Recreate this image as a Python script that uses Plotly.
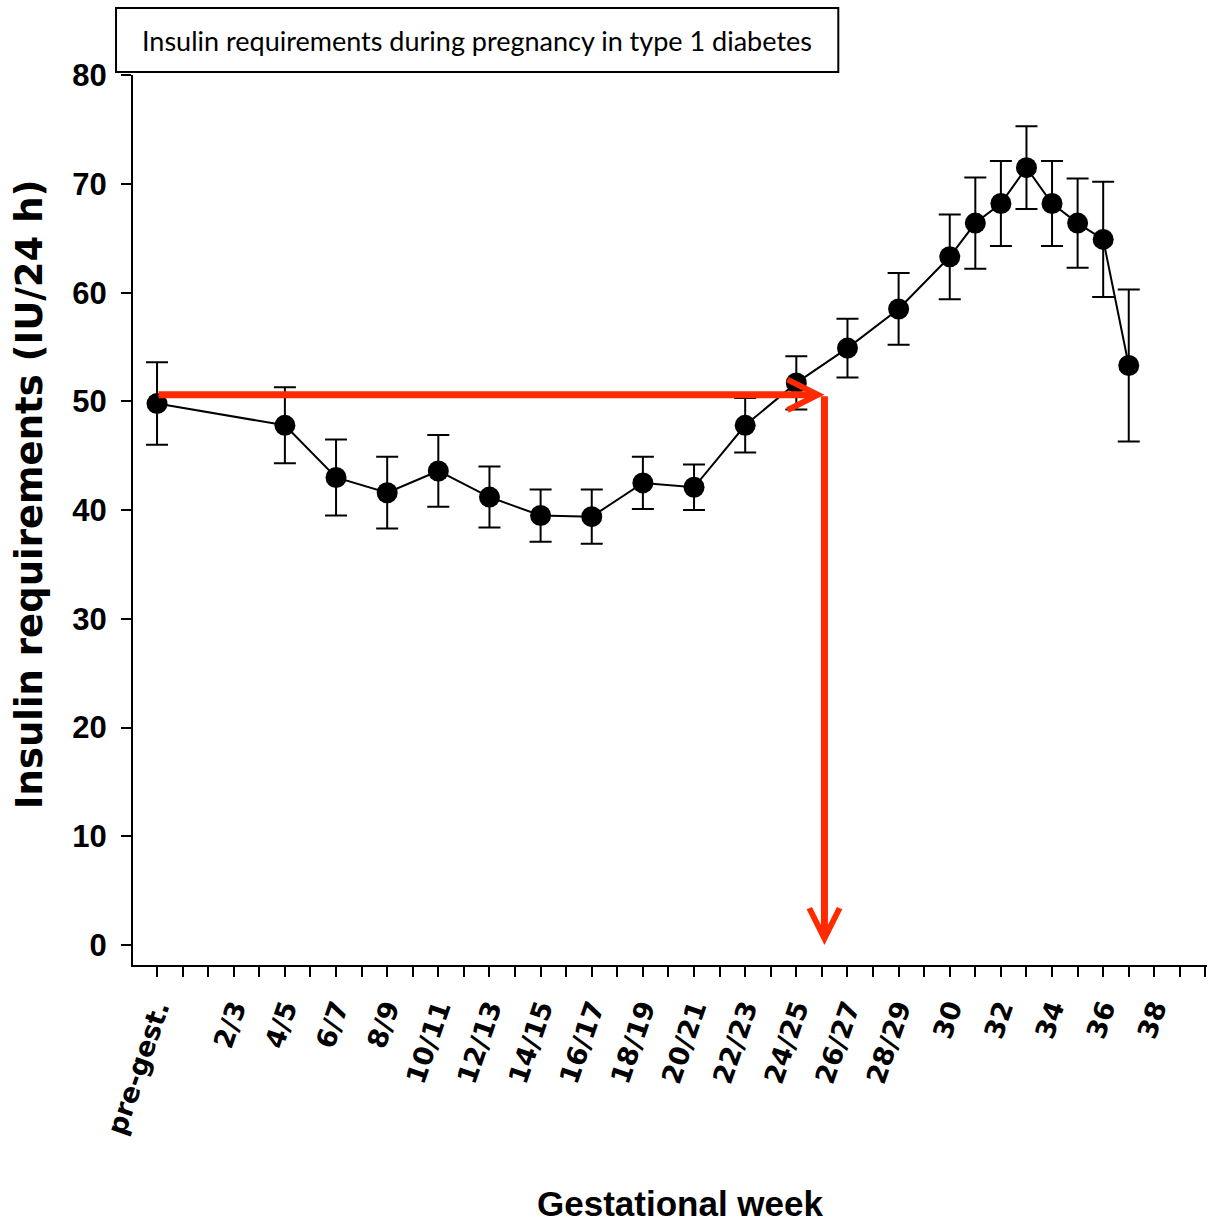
import plotly.graph_objects as go

# ---- data ----
tick_labels = ["pre-gest.", "2/3", "4/5", "6/7", "8/9", "10/11", "12/13", "14/15",
               "16/17", "18/19", "20/21", "22/23", "24/25", "26/27", "28/29",
               "30", "32", "34", "36", "38"]
tick_pos = [0, 3, 5, 7, 9, 11, 13, 15, 17, 19, 21, 23, 25, 27, 29, 31, 33, 35, 37, 39]

point_labels = ["pre-gest.", "4/5", "6/7", "8/9", "10/11", "12/13", "14/15", "16/17",
                "18/19", "20/21", "22/23", "24/25", "26/27", "28/29",
                "30", "31", "32", "33", "34", "35", "36", "37"]
point_pos = [0, 5, 7, 9, 11, 13, 15, 17, 19, 21, 23, 25, 27, 29,
             31, 32, 33, 34, 35, 36, 37, 38]
insulin = [49.8, 47.8, 43.0, 41.6, 43.6, 41.2, 39.5, 39.4, 42.5, 42.1, 47.8,
           51.7, 54.9, 58.5, 63.3, 66.4, 68.2, 71.5, 68.2, 66.4, 64.9, 53.3]
sem = [3.8, 3.5, 3.5, 3.3, 3.3, 2.8, 2.4, 2.5, 2.4, 2.1, 2.5,
       2.45, 2.7, 3.3, 3.9, 4.2, 3.9, 3.8, 3.9, 4.1, 5.3, 7.0]

# red guide arrows: pre-gestational level reached again at ~week 26
ref_level = 50.6
ref_start_pos = 0
cross_pos = 26.1
cross_floor = 0

y_ticks = [0, 10, 20, 30, 40, 50, 60, 70, 80]

title_text = "Insulin requirements during pregnancy in type 1 diabetes"
x_title = "Gestational week"
y_title = "Insulin requirements (IU/24 h)"

# ---- figure ----
all_ticks = list(range(-1, 42))
lab_map = dict(zip(tick_pos, tick_labels))
all_text = [lab_map.get(t, "") for t in all_ticks]

RED = "#FF2A00"

fig = go.Figure()
fig.add_trace(go.Scatter(
    x=point_pos, y=insulin, mode="lines+markers",
    line=dict(color="black", width=2),
    marker=dict(color="black", size=21, symbol="circle"),
    error_y=dict(type="data", array=sem, visible=True, color="black",
                 thickness=2, width=11),
    text=point_labels, hovertemplate="%{text}: %{y}<extra></extra>",
    showlegend=False,
))

fig.update_layout(
    width=1209, height=1227,
    margin=dict(l=133, r=2, t=75, b=262),
    paper_bgcolor="white", plot_bgcolor="white",
    xaxis=dict(
        range=[-0.94, 41.06], tickmode="array", tickvals=all_ticks, ticktext=all_text,
        showline=True, linecolor="black", linewidth=2, ticks="outside",
        ticklen=10, tickwidth=2, tickcolor="black", showgrid=False, zeroline=False,
        tickangle=-71,
        tickfont=dict(family="DejaVu Sans", size=27, color="black", weight="bold"),
        ticklabelstandoff=5,
    ),
    yaxis=dict(
        range=[-1.84, 80.02], tickmode="array", tickvals=y_ticks,
        showline=True, linecolor="black", linewidth=2, ticks="outside",
        ticklen=10, tickwidth=2, tickcolor="black", showgrid=False, zeroline=False,
        tickfont=dict(family="Liberation Sans, Arial", size=31, color="black",
                      weight="bold"),
        ticklabelstandoff=8,
    ),
    shapes=[dict(type="rect", xref="paper", yref="paper",
                 x0=-0.0158, x1=0.6567, y0=1.0034, y1=1.0753,
                 line=dict(color="black", width=2), fillcolor="white", layer="above")],
    annotations=[
        dict(text=title_text, xref="paper", yref="paper", x=0.3200, y=1.0393,
             showarrow=False, xanchor="center", yanchor="middle",
             font=dict(family="Lato", size=27, color="black")),
        dict(text=x_title, xref="paper", yref="paper", x=0.509, y=-0.2685,
             showarrow=False, xanchor="center", yanchor="middle",
             font=dict(family="Liberation Sans, Arial", size=35, color="black",
                       weight="bold")),
        dict(text=y_title, xref="paper", yref="paper", x=-0.0968, y=0.529,
             showarrow=False, xanchor="center", yanchor="middle", textangle=-90,
             font=dict(family="DejaVu Sans", size=37, color="black", weight="bold")),
        dict(x=cross_pos, y=ref_level, ax=ref_start_pos, ay=ref_level,
             xref="x", yref="y", axref="x", ayref="y", text="",
             showarrow=True, arrowhead=5, arrowsize=0.85, arrowwidth=7, arrowcolor=RED),
        dict(x=cross_pos, y=cross_floor, ax=cross_pos, ay=ref_level,
             xref="x", yref="y", axref="x", ayref="y", text="",
             showarrow=True, arrowhead=5, arrowsize=0.85, arrowwidth=7, arrowcolor=RED),
    ],
)

fig.write_html("out.html", config={"displayModeBar": False},
               post_script="document.body.style.margin='0';document.body.style.overflow='hidden';")
